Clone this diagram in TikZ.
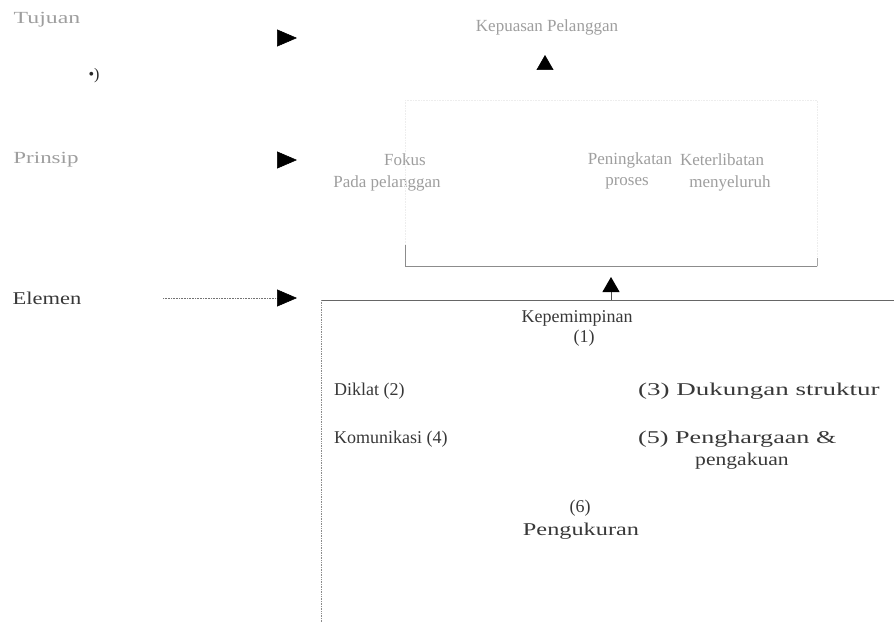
\documentclass[tikz,border=0pt]{standalone}
\usepackage{fontspec}
\usepackage{graphicx}
\setmainfont{Liberation Serif}
\usetikzlibrary{arrows.meta}
% horizontally widened text
\newcommand\stretchx[2]{\scalebox{#1}[1]{#2}}
\begin{document}
\begin{tikzpicture}[x=1pt,y=-1pt,
  faint/.style={inner sep=1pt,text=black!38,font=\fontsize{17}{19}\selectfont},
  body/.style={inner sep=1pt,text=black!78,font=\fontsize{18}{20}\selectfont},
  headtip/.style={-{Triangle[length=20pt,width=17pt,color=black]},draw=white,line width=0.6pt},
  uptip/.style={-{Triangle[length=15pt,width=17pt,color=black]},draw=white,line width=0.6pt},
  framefaint/.style={draw=black!7,line width=0.6pt,densely dotted},
  framelow/.style={draw=black!45,line width=0.7pt,densely dotted},
  frametop/.style={draw=black!60,line width=0.9pt}]
\useasboundingbox (0,0) rectangle (894,623);

% level labels
\node[faint] (tujuan) at (47,20) {\stretchx{1.4}{Tujuan}};
\node[inner sep=0pt,text=black!85,font=\fontsize{16}{18}\selectfont] (mark) at (94,76) {•)};
\node[faint] (prinsip) at (46,160) {\stretchx{1.35}{Prinsip}};
\node[body] (elemen) at (47,298) {\stretchx{1.25}{Elemen}};

% goal
\node[faint] (kepuasan) at (547,27) {Kepuasan Pelanggan};

% principles
\node[faint] (fokus) at (405,160) {Fokus};
\node[faint] (pada) at (387,183) {Pada pelanggan};
\node[faint] (peningkatan) at (630,160) {Peningkatan};
\node[faint] (proses) at (627,183) {proses};
\node[faint] (keterlibatan) at (722,160) {Keterlibatan};
\node[faint] (menyeluruh) at (730,183) {menyeluruh};

% frame around the principles
\coordinate (pA) at (405,100);
\coordinate (pB) at (817,100);
\coordinate (pC) at (817,266);
\coordinate (pD) at (405,266);
\draw[framefaint] (pA) -- (pB) -- (pC);
\draw[framefaint] (pA) -- (pD);
\draw[draw=black!45,line width=0.7pt] (pD) -- (pC);
\draw[draw=black!45,line width=0.7pt] (405,245) -- (pD);
\draw[draw=black!35,line width=0.6pt] (817,258) -- (pC);

% supporting elements
\node[body] (kepemimpinan) at (577,318) {Kepemimpinan};
\node[body] (satu) at (584,338) {(1)};
\node[body,anchor=west] (diklat) at (333,391) {Diklat (2)};
\node[body,anchor=west] (dukungan) at (637,391) {\stretchx{1.5}{(3) Dukungan struktur}};
\node[body,anchor=west] (komunikasi) at (333,439) {Komunikasi (4)};
\node[body,anchor=west] (penghargaan) at (637,439) {\stretchx{1.45}{(5) Penghargaan \&}};
\node[body] (pengakuan) at (742,461) {\stretchx{1.2}{pengakuan}};
\node[body] (enam) at (580,508) {(6)};
\node[body] (pengukuran) at (581,531) {\stretchx{1.35}{Pengukuran}};

% frame of the elements (top and left edges)
\coordinate (eA) at (321,300);
\coordinate (eB) at (894,300);
\coordinate (eC) at (321,623);
\draw[frametop] (eA) -- (eB);
\draw[framelow] (eA) -- (eC);

% connectors
\coordinate (tujuanFrom) at (100,38);
\coordinate (tujuanTo) at (297,38);
\draw[headtip] (tujuanFrom) -- (tujuanTo);

\coordinate (prinsipTo) at (297,160);
\draw[headtip] (prinsip.east) -- (prinsipTo);

\coordinate (elemenFrom) at (163,298);
\coordinate (elemenTo) at (297,298);
\draw[headtip,draw=black!55,densely dotted] (elemenFrom) -- (elemenTo);

\coordinate (goalFrom) at (545,100);
\coordinate (goalTo) at (545,55);
\draw[uptip] (goalFrom) -- (goalTo);

\coordinate (elemFrom) at (611,300);
\coordinate (elemTo) at (611,277);
\draw[uptip,draw=black!70,line width=1pt] (elemFrom) -- (elemTo);
\end{tikzpicture}
\end{document}
